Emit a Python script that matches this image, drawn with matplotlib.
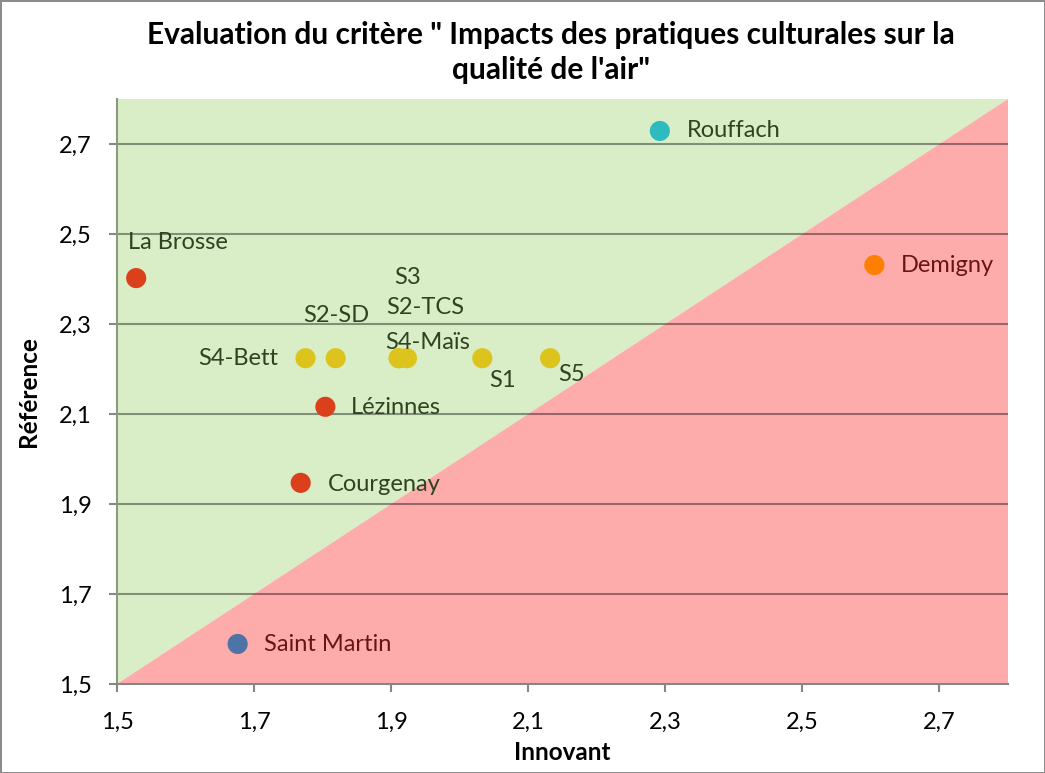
import matplotlib.pyplot as plt
from matplotlib.ticker import FuncFormatter, MultipleLocator

plt.rcParams['font.family'] = ['Lato', 'DejaVu Sans']

# data
names = ["La Brosse", "Rouffach", "Demigny", "Lézinnes", "Courgenay", "Saint Martin",
         "S4-Bett", "S2-SD", "S3", "S2-TCS", "S4-Maïs", "S1", "S5"]
innovant = [1.528, 2.292, 2.605, 1.804, 1.768, 1.676,
            1.775, 1.819, 1.923, 1.911, 1.911, 2.033, 2.132]
reference = [2.402, 2.729, 2.431, 2.116, 1.947, 1.589,
             2.224, 2.224, 2.224, 2.224, 2.224, 2.224, 2.224]

colors = ["#DC3F1B", "#2EBBBF", "#FF8000", "#DC3F1B", "#DC3F1B", "#4E73A6",
          "#DDC41C", "#DDC41C", "#DDC41C", "#DDC41C", "#DDC41C", "#DDC41C", "#DDC41C"]

# label offsets in pixels (dx, dy, ha)
offsets = {
    "La Brosse": (-8, 36, "left"),
    "Rouffach": (27, 0, "left"),
    "Demigny": (27, 0, "left"),
    "Lézinnes": (26, -1, "left"),
    "Courgenay": (27, -2, "left"),
    "Saint Martin": (26, -1, "left"),
    "S4-Bett": (-27, 0, "right"),
    "S2-SD": (1, 43, "center"),
    "S3": (1, 81, "center"),
    "S2-TCS": (27, 51, "center"),
    "S4-Maïs": (29, 16, "center"),
    "S1": (20, -22, "center"),
    "S5": (21, -16, "center"),
}

lo, hi = 1.5, 2.8
green = "#D9EDC7"
red = "#FEABAB"

fig = plt.figure(figsize=(10.45, 7.73), dpi=100)
fig.patch.set_edgecolor("#8C8C8C")
fig.patch.set_linewidth(2)
ax = fig.add_axes([117 / 1045, 1 - 684 / 773, 891 / 1045, 585 / 773])

ax.fill([lo, lo, hi], [lo, hi, hi], color=green, zorder=0, lw=0)
ax.fill([lo, hi, hi], [lo, hi, lo], color=red, zorder=0, lw=0)

for yv in [1.7, 1.9, 2.1, 2.3, 2.5, 2.7]:
    ax.axhline(yv, color="black", alpha=0.4, lw=1.5, zorder=1)

ax.scatter(innovant, reference, s=210, c=colors, zorder=3, linewidths=0)

for n, x, y in zip(names, innovant, reference):
    dx, dy, ha = offsets[n]
    tc = "#6A1414" if y < x else "#2E4320"
    ax.annotate(n, (x, y), xytext=(dx * 0.72, dy * 0.72), textcoords="offset points",
                ha=ha, va="center", fontsize=17, color=tc, zorder=4)

ax.set_xlim(lo, hi)
ax.set_ylim(lo, hi)
ax.xaxis.set_major_locator(MultipleLocator(0.2))
ax.yaxis.set_major_locator(MultipleLocator(0.2))
fmt = FuncFormatter(lambda v, p: ("%.1f" % v).replace(".", ","))
ax.xaxis.set_major_formatter(fmt)
ax.yaxis.set_major_formatter(fmt)
ax.set_xticks([1.5, 1.7, 1.9, 2.1, 2.3, 2.5, 2.7])
ax.set_yticks([1.5, 1.7, 1.9, 2.1, 2.3, 2.5, 2.7])
ax.tick_params(axis="both", direction="out", length=6, width=1.5, color="#868686",
               labelsize=17)
ax.tick_params(axis="x", pad=14)
ax.tick_params(axis="y", pad=12)

for s in ["top", "right"]:
    ax.spines[s].set_visible(False)
ax.spines["left"].set_color("#8A9A7C")
ax.spines["left"].set_linewidth(1.5)
ax.spines["bottom"].set_color("#868686")
ax.spines["bottom"].set_linewidth(1.5)

ax.set_xlabel("Innovant", fontsize=17.5, fontweight="bold", labelpad=6)
ax.set_ylabel("Référence", fontsize=17.5, fontweight="bold", labelpad=14)
fig.text(0.527, 0.932, "Evaluation du critère \" Impacts des pratiques culturales sur la\nqualité de l'air\"",
         ha="center", va="center", fontsize=21.5, fontweight="bold", linespacing=1.32)

fig.savefig("out.png", dpi=100)
